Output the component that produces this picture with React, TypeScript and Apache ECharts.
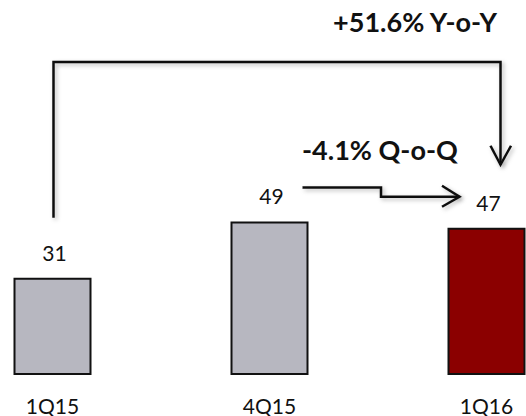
import { useEffect, useRef } from "react";
import * as echarts from "echarts";

// Quarterly figures
const quarters = ["1Q15", "4Q15", "1Q16"];
const values = [31, 49, 47];
const barColors = ["#B7B7C0", "#B7B7C0", "#8B0000"];

const INK = "#111111";
const FONT = "Lato";

const change = (from: number, to: number) => ((to - from) / from) * 100;
const fmtPct = (v: number) => `${v >= 0 ? "+" : ""}${v.toFixed(1)}%`;

export default function App() {
  const ref = useRef<HTMLDivElement>(null);

  useEffect(() => {
    const chart = echarts.init(ref.current!, null, { renderer: "svg" });
    chart.setOption({
      animation: false,
      grid: {
        left: -56,
        right: -69,
        top: -1,
        bottom: 41,
        containLabel: false,
        outerBoundsMode: "none",
      },
      xAxis: {
        type: "category",
        data: quarters,
        axisLine: { show: false },
        axisTick: { show: false },
        axisLabel: { margin: 22, fontFamily: FONT, fontSize: 21, lineHeight: 16, color: INK },
      },
      yAxis: { type: "value", min: 0, max: 120, show: false },
      series: [
        {
          type: "bar",
          barWidth: 78,
          data: values.map((v, i) => ({ value: v, itemStyle: { color: barColors[i] } })),
          itemStyle: { borderColor: INK, borderWidth: 2 },
          label: {
            show: true,
            position: "top",
            distance: 15,
            offset: [2, 0],
            fontFamily: FONT,
            fontSize: 21,
            color: INK,
          },
        },
      ],
    });

    // Connector arrows placed from the axes' own scales
    const xPix = (i: number) => chart.convertToPixel({ xAxisIndex: 0 }, quarters[i]) as number;
    const yPix = (v: number) => chart.convertToPixel({ yAxisIndex: 0 }, v) as number;
    const x0 = xPix(0);
    const x1 = xPix(1);
    const x2 = xPix(2);

    const lineStyle = {
      stroke: INK,
      lineWidth: 2.5,
      fill: "none",
      lineJoin: "miter",
      shadowBlur: 4,
      shadowOffsetX: 2,
      shadowOffsetY: 2,
      shadowColor: "rgba(0,0,0,0.28)",
    };

    // Year-over-year bracket
    const yoyTop = 62;
    const yoyX = x2 + 14;
    const yoyTip = yPix(values[2]) - 63;
    // Quarter-over-quarter step arrow
    const qStartY = yPix(values[1]) - 34;
    const qEndY = yPix(values[2]) - 31;
    const qStep = (x1 + x2) / 2 + 3;
    const qTip = x2 - 27;

    const yoy = change(values[0], values[2]);
    const qoq = change(values[1], values[2]);

    chart.setOption({
      graphic: [
        {
          type: "polyline",
          shape: {
            points: [
              [x0 + 1, yPix(values[0]) - 60],
              [x0 + 1, yoyTop],
              [yoyX, yoyTop],
              [yoyX, yoyTip],
            ],
          },
          style: lineStyle,
        },
        {
          type: "polyline",
          shape: {
            points: [
              [yoyX - 10, yoyTip - 19],
              [yoyX, yoyTip],
              [yoyX + 10.5, yoyTip - 19],
            ],
          },
          style: lineStyle,
        },
        {
          type: "polyline",
          shape: {
            points: [
              [x1 + 33, qStartY],
              [qStep, qStartY],
              [qStep, qEndY],
              [qTip, qEndY],
            ],
          },
          style: lineStyle,
        },
        {
          type: "polyline",
          shape: {
            points: [
              [qTip - 17.5, qEndY - 11],
              [qTip, qEndY],
              [qTip - 17.5, qEndY + 10],
            ],
          },
          style: lineStyle,
        },
        {
          type: "text",
          style: {
            text: `${fmtPct(yoy)} Y-o-Y`,
            x: 497,
            y: 21,
            align: "right",
            verticalAlign: "middle",
            fontFamily: FONT,
            fontWeight: "bold",
            fontSize: 27,
            fill: INK,
          },
        },
        {
          type: "text",
          style: {
            text: `${fmtPct(qoq)} Q-o-Q`,
            x: 302,
            y: 149,
            align: "left",
            verticalAlign: "middle",
            fontFamily: FONT,
            fontWeight: "bold",
            fontSize: 27,
            fill: INK,
          },
        },
      ],
    });

    return () => chart.dispose();
  }, []);

  return (
    <div
      ref={ref}
      style={{ position: "fixed", left: 0, top: 0, width: 526, height: 416, background: "#ffffff" }}
    />
  );
}
